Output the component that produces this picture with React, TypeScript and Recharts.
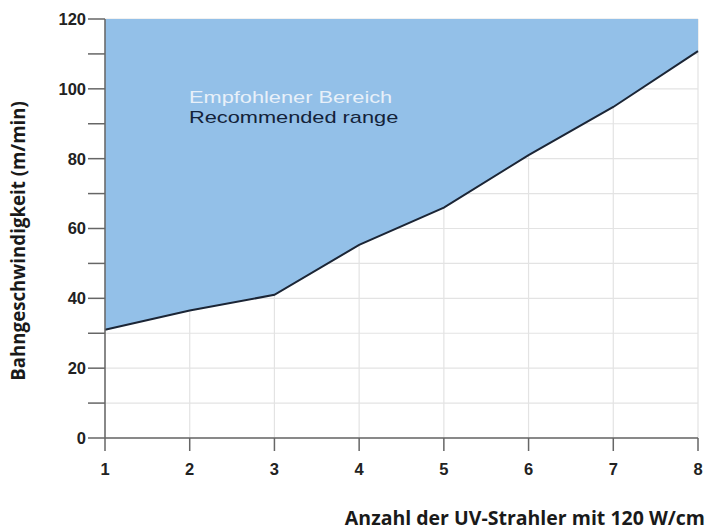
import React from "react";
import { ComposedChart, Area, Line, XAxis, YAxis, CartesianGrid } from "recharts";

const lampCounts = [1, 2, 3, 4, 5, 6, 7, 8];
const minSpeeds = [31, 36.5, 41, 55.3, 66, 81, 94.8, 110.8];
const upperLimit = 120;
const yTicks = [0, 10, 20, 30, 40, 50, 60, 70, 80, 90, 100, 110, 120];
const xTicks = [1, 2, 3, 4, 5, 6, 7, 8];

const data = lampCounts.map((n, i) => ({
  n,
  speed: minSpeeds[i],
  range: [minSpeeds[i], upperLimit],
}));

const tickFont = { fontFamily: "Liberation Sans, Arial, sans-serif", fontWeight: 700, fontSize: 16.5, fill: "#222" };

const rangeText: React.CSSProperties = {
  position: "absolute",
  left: 189,
  fontFamily: "Liberation Sans, Arial, sans-serif",
  fontSize: 17,
  lineHeight: "20px",
  whiteSpace: "nowrap",
  transform: "scaleX(1.28)",
  transformOrigin: "left center",
};

export default function App() {
  return (
    <div style={{ position: "absolute", left: 0, top: 0, width: 707, height: 532, background: "#fff" }}>
      <ComposedChart width={707} height={532} data={data} margin={{ top: 19, right: 9, bottom: 0, left: 0 }}>
        <CartesianGrid stroke="#e3e3e3" strokeWidth={1.2} />
        <XAxis
          dataKey="n"
          type="number"
          domain={[1, 8]}
          ticks={xTicks}
          interval={0}
          height={94}
          tickSize={13}
          tickMargin={12}
          stroke="#666"
          strokeWidth={1.5}
          tick={tickFont}
        />
        <YAxis
          type="number"
          domain={[0, 120]}
          ticks={yTicks}
          interval={0}
          width={105}
          tickSize={17}
          tickMargin={2}
          stroke="#666"
          strokeWidth={1.5}
          tick={tickFont}
          tickFormatter={(v: number) => (v % 20 === 0 ? String(v) : "")}
        />
        <Area
          dataKey="range"
          type="linear"
          fill="#93c0e8"
          fillOpacity={1}
          stroke="none"
          isAnimationActive={false}
        />
        <Line
          dataKey="speed"
          type="linear"
          stroke="#1b2535"
          strokeWidth={2}
          dot={false}
          isAnimationActive={false}
        />
      </ComposedChart>
      <div style={{ ...rangeText, top: 88, color: "#e8f0f9" }}>Empfohlener Bereich</div>
      <div style={{ ...rangeText, top: 108, color: "#13233a" }}>Recommended range</div>
      <div
        style={{
          position: "absolute",
          left: 16.5,
          top: 241,
          transform: "translate(-50%, -50%) rotate(-90deg)",
          whiteSpace: "nowrap",
          fontFamily: "Open Sans, sans-serif",
          fontWeight: 700,
          fontSize: 18.7,
          color: "#1a1a1a",
        }}
      >
        Bahngeschwindigkeit (m/min)
      </div>
      <div
        style={{
          position: "absolute",
          right: 2,
          top: 504,
          whiteSpace: "nowrap",
          fontFamily: "Open Sans, sans-serif",
          fontWeight: 700,
          fontSize: 19.5,
          color: "#1a1a1a",
        }}
      >
        Anzahl der UV-Strahler mit 120 W/cm
      </div>
    </div>
  );
}
